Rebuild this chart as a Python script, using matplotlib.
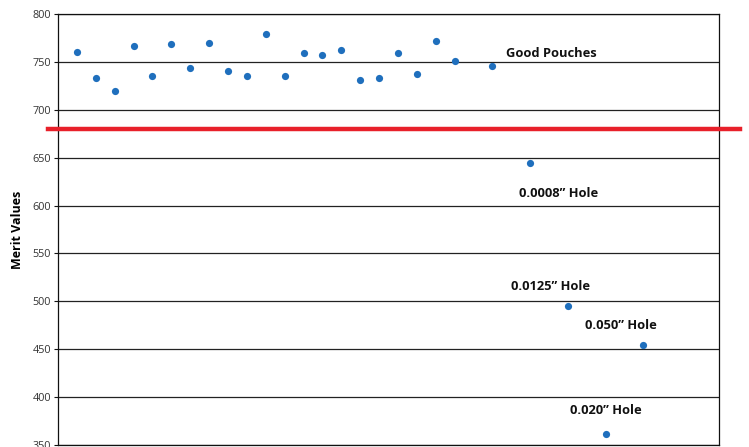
import matplotlib.pyplot as plt

plt.rcParams['font.family'] = ['Open Sans', 'DejaVu Sans']

# sample number and merit value
good_x = list(range(1, 22)) + [23]
good_y = [760, 733, 720, 767, 735, 769, 744, 770, 740, 735,
          779, 735, 759, 757, 762, 731, 733, 759, 737, 772, 751, 746]
hole_x = [25, 27, 29, 31]
hole_y = [644, 495, 362, 454]

threshold = 680
yticks = [350, 400, 450, 500, 550, 600, 650, 700, 750, 800]

# annotation text with where it sits (data coords, left / centre)
notes = [
    ('Good Pouches', 23.7, 759),
    ('0.0008\u201d Hole', 24.4, 613),
    ('0.0125\u201d Hole', 24.0, 515),
    ('0.050\u201d Hole', 27.9, 475),
    ('0.020\u201d Hole', 27.1, 386),
]

fig = plt.figure(figsize=(7.49, 4.47), dpi=100)
ax = fig.add_axes([58 / 749, 1 - 445 / 447, 661 / 749, 431 / 447])

ax.set_xlim(0, 35)
ax.set_ylim(350, 800)
ax.set_yticks(yticks)
ax.set_xticks([])

# gridlines
for t in yticks:
    ax.axhline(t, color='#222222', lw=0.9, zorder=1)

blue = '#1f6fbd'
ax.plot(good_x, good_y, 'o', color=blue, ms=5.2, mec='none', zorder=3)
ax.plot(hole_x, hole_y, 'o', color=blue, ms=5.2, mec='none', zorder=3)

# threshold line sticks out past both sides of the plot
ax.axhline(threshold, xmin=-0.015, xmax=1.032, color='#e8202a', lw=3.2,
           clip_on=False, zorder=4)

for txt, x, y in notes:
    ax.text(x, y, txt, fontsize=9.3, fontweight='bold', color='#111111',
            ha='left', va='center')

for s in ax.spines.values():
    s.set_color('#111111')
    s.set_linewidth(0.9)

ax.tick_params(axis='y', length=3, width=0.8, color='#111111',
               labelsize=7.8, labelcolor='#333333', pad=2)
ax.set_ylabel('Merit Values', fontsize=9, fontweight='bold', labelpad=6)

fig.savefig('out.png', dpi=100)
